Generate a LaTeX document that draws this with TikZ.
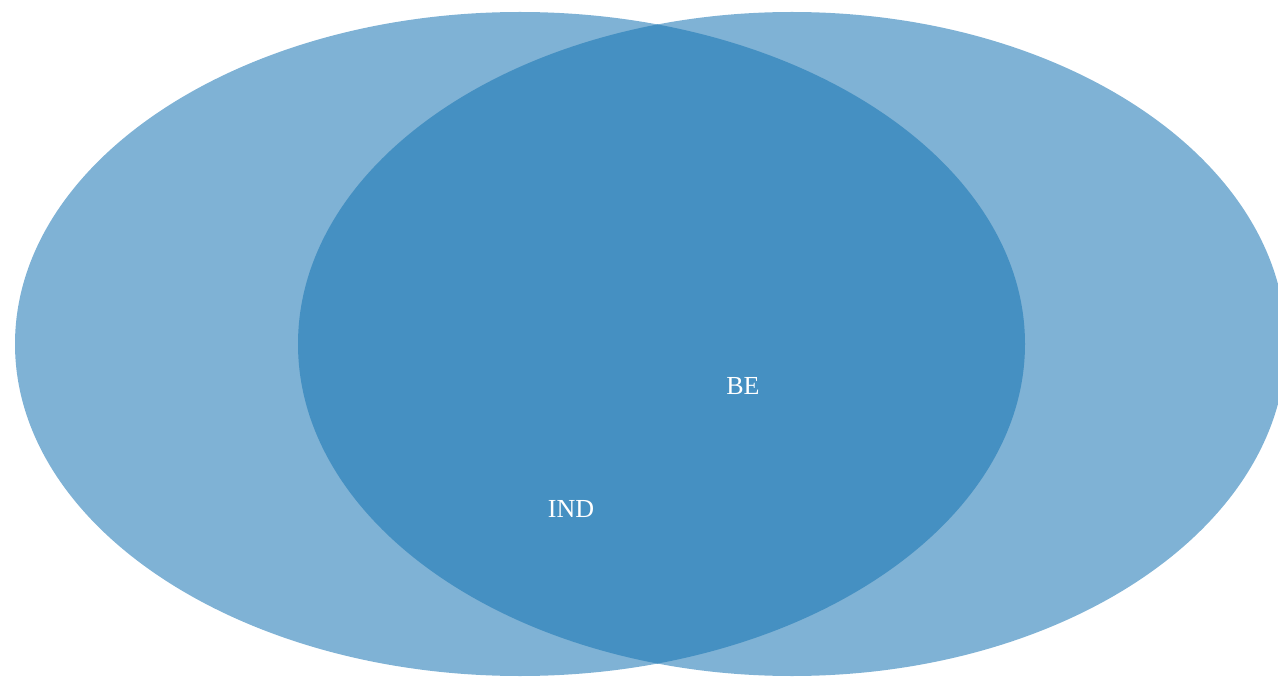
\documentclass[tikz,border=0pt]{standalone}
\usepackage{fontspec}
\setmainfont{Liberation Serif}
\definecolor{lightblue}{HTML}{7FB2D5}
\definecolor{darkblue}{HTML}{4590C2}
\tikzset{
  setlabel/.style={text=white, font=\fontsize{26}{30}\selectfont, inner sep=0pt, anchor=center}
}
\begin{document}
\begin{tikzpicture}[x=1pt,y=-1pt]
\useasboundingbox (0,0) rectangle (1278,679);
\begin{scope}
\clip (0,0) rectangle (1278,679);
\fill[lightblue] (520,344) ellipse [x radius=505, y radius=332];
\fill[lightblue] (792,344) ellipse [x radius=494, y radius=332];
\begin{scope}
\clip (520,344) ellipse [x radius=505, y radius=332];
\fill[darkblue] (792,344) ellipse [x radius=494, y radius=332];
\end{scope}
\end{scope}
\node[setlabel] (be) at (743,386) {BE};
\node[setlabel] (ind) at (571,509) {IND};
\end{tikzpicture}
\end{document}
